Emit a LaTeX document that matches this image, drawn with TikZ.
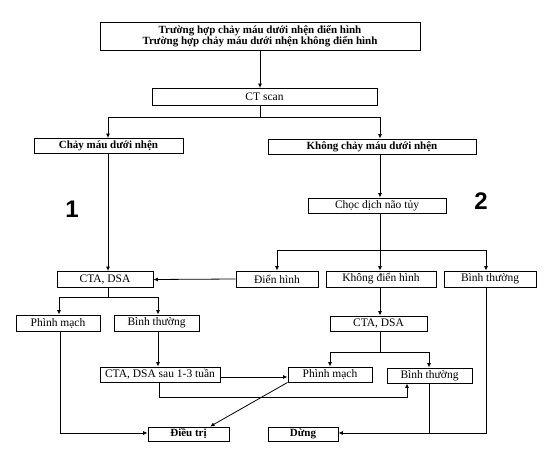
\documentclass[tikz,border=0pt]{standalone}
\usepackage{fontspec}
\setmainfont{Liberation Serif}
\newfontfamily\numfont{Liberation Sans}
\usetikzlibrary{arrows.meta}
\tikzset{
  box/.style={draw, line width=0.9pt, inner sep=0pt, font=\fontsize{11.5}{12}\selectfont},
  bbox/.style={box, font=\fontsize{11}{12}\selectfont\bfseries},
  conn/.style={line width=0.8pt},
  arr/.style={line width=0.8pt, -{Latex[length=4.5pt,width=4pt]}},
  bignum/.style={font=\numfont\fontsize{24}{26}\selectfont\bfseries}
}
\begin{document}
\begin{tikzpicture}[x=1pt,y=-1pt]
\useasboundingbox (0,0) rectangle (550,458);
% boxes
\node[bbox, minimum width=320pt, minimum height=28pt, align=center] (top) at (260,36) {Trường hợp chảy máu dưới nhện điển hình\\[-1pt]Trường hợp chảy máu dưới nhện không điển hình};
\node[box, minimum width=225pt, minimum height=17pt] (ct) at (264.5,97) {CT scan};
\node[bbox, minimum width=149pt, minimum height=15pt] (chay) at (108.5,146) {Chảy máu dưới nhện};
\node[bbox, minimum width=208pt, minimum height=15pt] (khong) at (372,146.5) {Không chảy máu dưới nhện};
\node[box, minimum width=138pt, minimum height=15pt] (choc) at (377,205.5) {Chọc dịch não tủy};
\node[box, minimum width=82pt, minimum height=16pt] (dien) at (277,279) {Điển hình};
\node[box, minimum width=110pt, minimum height=16pt] (kdien) at (381,279) {Không điển hình};
\node[box, minimum width=92pt, minimum height=16pt] (binhA) at (490,279) {Bình thường};
\node[box, minimum width=96pt, minimum height=16pt] (ctaA) at (105,279.5) {CTA, DSA};
\node[box, minimum width=84pt, minimum height=16pt] (phinhA) at (58,323) {Phình mạch};
\node[box, minimum width=85pt, minimum height=16pt] (binhB) at (156.5,323) {Bình thường};
\node[box, minimum width=97pt, minimum height=15pt] (ctaB) at (378.5,323.5) {CTA, DSA};
\node[box, minimum width=120pt, minimum height=15pt] (ctasau) at (160,374.5) {CTA, DSA sau 1-3 tuần};
\node[box, minimum width=84pt, minimum height=15pt] (phinhB) at (330,374.5) {Phình mạch};
\node[box, minimum width=85pt, minimum height=15pt] (binhC) at (429.5,375.5) {Bình thường};
\node[bbox, minimum width=81pt, minimum height=14pt] (dieutri) at (188.5,434) {Điều trị};
\node[bbox, minimum width=70pt, minimum height=14pt] (dung) at (303,434) {Dừng};
% numbers
\node[bignum] (n1) at (72,209) {1};
\node[bignum] (n2) at (481,201) {2};
% connectors
\draw[arr] (top.south -| 260,0) -- (ct.north -| 260,0);
\coordinate (j1) at (260,117);
\draw[conn] (ct.south -| j1) -- (j1);
\draw[arr] (j1) -| (chay.north -| 108,0);
\draw[arr] (j1) -| (khong.north -| 380,0);
\draw[arr] (chay.south -| 108,0) -- (ctaA.north -| 108,0);
\draw[arr] (khong.south -| 380,0) -- (choc.north -| 380,0);
\coordinate (j2) at (380,250);
\draw[conn] (choc.south -| j2) -- (j2);
\draw[arr] (j2) -| (dien.north -| 277,0);
\draw[arr] (j2) -- (kdien.north -| 380,0);
\draw[arr] (j2) -| (binhA.north -| 486,0);
\draw[arr] (dien.west) -- (ctaA.east);
\coordinate (j3) at (108,297);
\draw[conn] (ctaA.south -| j3) -- (j3);
\draw[arr] (j3) -| (phinhA.north -| 59,0);
\draw[arr] (j3) -| (binhB.north -| 158,0);
\draw[arr] (kdien.south -| 380,0) -- (ctaB.north -| 380,0);
\coordinate (j4) at (380,352);
\draw[conn] (ctaB.south -| j4) -- (j4);
\draw[arr] (j4) -| (phinhB.north -| 330,0);
\draw[arr] (j4) -| (binhC.north -| 429,0);
\draw[arr] (binhB.south -| 158,0) -- (ctasau.north -| 158,0);
\draw[arr] (ctasau.east |- 0,377) -- (phinhB.west |- 0,377);
\coordinate (j5) at (159,397);
\draw[arr] (ctasau.south -| j5) -- (j5) -| (binhC.south -| 407,0);
\draw[arr] (phinhB.south west) -- (dieutri.north -| 210,0);
\coordinate (j6) at (60,433);
\draw[arr] (phinhA.south -| j6) -- (j6) -- (dieutri.west |- j6);
\coordinate (j7) at (486,433);
\draw[arr] (binhA.south -| j7) -- (j7) -- (dung.east |- j7);
\draw[conn] (binhC.south -| 429,0) -- (429,433);
\end{tikzpicture}
\end{document}
